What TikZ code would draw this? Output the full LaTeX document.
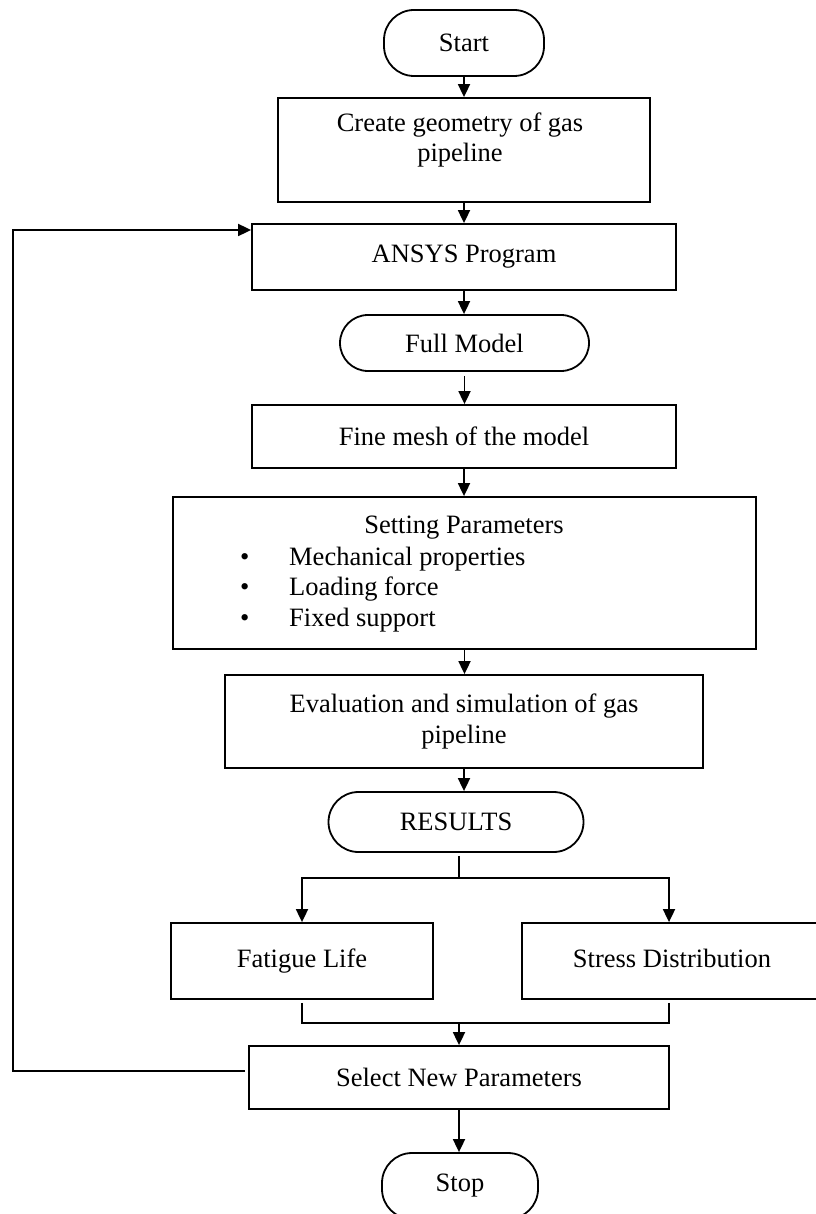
\documentclass[tikz,border=0pt]{standalone}
\usepackage{fontspec}
\setmainfont{Liberation Serif}
\usetikzlibrary{arrows.meta,calc}
\begin{document}
\begin{tikzpicture}[x=1pt,y=-1pt,
  txt/.style={font=\fontsize{26.5}{30.5}\selectfont, inner sep=0pt},
  proc/.style={draw, line width=1.8pt, inner sep=0pt, txt},
  term/.style={draw, line width=1.8pt, inner sep=0pt, txt},
  conn/.style={line width=1.8pt},
  arr/.style={line width=1.8pt, -{Triangle[length=13pt,width=12pt]}}
]
\useasboundingbox (0,0) rectangle (815,1214);
\fill[white] (0,0) rectangle (815,1214);

% nodes
\node[term, minimum width=160pt, minimum height=66pt, rounded corners=30pt] (start) at (464,43) {Start};
\node[proc, minimum width=372pt, minimum height=104pt] (create) at (464,150) {};
\node[txt, align=center] (createtxt) at (460,140) {Create geometry of gas\\pipeline};
\node[proc, minimum width=424pt, minimum height=66pt] (ansys) at (464,257) {ANSYS Program};
\node[term, minimum width=249pt, minimum height=56pt, rounded corners=28pt] (full) at (464.5,343) {Full Model};
\node[proc, minimum width=424pt, minimum height=63pt] (fine) at (464,436.5) {Fine mesh of the model};
\node[proc, minimum width=583pt, minimum height=152pt] (set) at (464.5,573) {};
\node[txt] (settitle) at (464,528) {Setting Parameters};
\node[txt, anchor=west, align=left] (setlist) at (240,589.5)
  {\makebox[49pt][l]{•}Mechanical properties\\
   \makebox[49pt][l]{•}Loading force\\
   \makebox[49pt][l]{•}Fixed support};
\node[proc, minimum width=478pt, minimum height=93pt, align=center] (eval) at (464,721.5) {Evaluation and simulation of gas\\pipeline};
\node[term, minimum width=255pt, minimum height=60pt, rounded corners=30pt] (res) at (456,822) {RESULTS};
\node[proc, minimum width=262pt, minimum height=76pt, text height=19pt, text depth=6pt] (fat) at (302,961) {Fatigue Life};
\node[proc, minimum width=300pt, minimum height=76pt, text height=19pt, text depth=6pt] (str) at (672,961) {Stress Distribution};
\node[proc, minimum width=420pt, minimum height=63pt] (sel) at (459,1077.5) {Select New Parameters};
\node[term, minimum width=156pt, minimum height=66pt, rounded corners=30pt] (stop) at (460,1186) {Stop};

% connectors
\draw[arr] (start.south) -- (start.south |- create.north);
\draw[arr] (create.south) -- (create.south |- ansys.north);
\draw[arr] (ansys.south) -- (ansys.south |- full.north);
\draw[arr, shorten <=4pt] (full.south) -- (full.south |- fine.north);
\draw[arr] (fine.south) -- (fine.south |- set.north);
\draw[arr] (set.south) -- (set.south |- eval.north);
\draw[arr] (eval.south) -- (eval.south |- res.north);

\coordinate (bj) at ($(res.south)+(3,25)$);
\draw[conn, shorten <=3pt] (res.south -| bj) -- (bj);
\draw[arr] (bj) -| (fat.north);
\draw[arr] (bj) -| ([xshift=-3pt]str.north);

\coordinate (mj) at ($(sel.north)+(0,-22)$);
\draw[conn, shorten <=3pt] (fat.south) |- (mj);
\draw[conn, shorten <=3pt] ([xshift=-3pt]str.south) |- (mj);
\draw[arr] (mj) -- (sel.north);

\draw[arr] (sel.south) -- (sel.south |- stop.north);

% feedback loop
\coordinate (fbl) at (13,0);
\coordinate (fa) at ([yshift=6.5pt]sel.west);
\coordinate (fb) at ([yshift=27pt]ansys.west);
\draw[arr, shorten <=3pt] (fa) -- (fa -| fbl) -- (fb -| fbl) -- (fb);
\end{tikzpicture}
\end{document}
